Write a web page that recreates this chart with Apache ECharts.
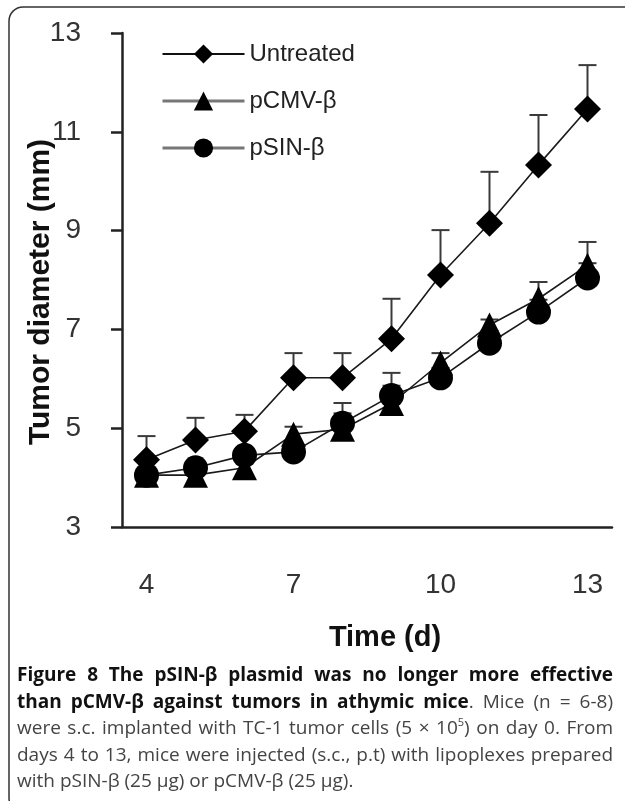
<!DOCTYPE html>
<html>
<head>
<meta charset="utf-8">
<script src="https://cdn.jsdelivr.net/npm/echarts@6/dist/echarts.min.js"></script>
<style>html,body{margin:0;padding:0;background:#fff;}#c{width:625px;height:801px;}</style>
</head>
<body>
<div id="c"></div>
<script>
// ---- data ----
const days = [4, 5, 6, 7, 8, 9, 10, 11, 12, 13];
const untreated = [4.36, 4.76, 4.94, 6.02, 6.02, 6.81, 8.10, 9.15, 10.33, 11.46];
const untreatedSD = [0.48, 0.45, 0.33, 0.50, 0.50, 0.81, 0.91, 1.04, 1.01, 0.89];
const pCMV = [4.05, 4.05, 4.20, 4.88, 4.98, 5.50, 6.32, 7.09, 7.62, 8.30];
const pCMVSD = [0.12, 0.12, 0.12, 0.15, 0.53, 0.62, 0.20, 0.11, 0.34, 0.47];
const pSIN = [4.05, 4.20, 4.45, 4.52, 5.10, 5.66, 6.02, 6.72, 7.35, 8.04];
const pSINSD = [0.10, 0.10, 0.15, 0.15, 0.20, 0.20, 0.20, 0.25, 0.25, 0.30];
const xTicks = [4, 7, 10, 13];
const seriesNames = ['Untreated', 'pCMV-\u03b2', 'pSIN-\u03b2'];

// caption lines: words made of segments (b = bold, r = regular, s = superscript)
const captionLines = [
  { justify: true, words: 'Figure 8 The pSIN-\u03b2 plasmid was no longer more effective'.split(' ').map(w => [['b', w]]) },
  { justify: true, words: [].concat(
      'than pCMV-\u03b2 against tumors in athymic'.split(' ').map(w => [['b', w]]),
      [[['b', 'mice'], ['r', '.']]],
      'Mice (n = 6-8)'.split(' ').map(w => [['r', w]])) },
  { justify: true, words: [].concat(
      'were s.c. implanted with TC-1 tumor cells (5 \u00d7'.split(' ').map(w => [['r', w]]),
      [[['r', '10'], ['s', '5'], ['r', ')']]],
      'on day 0. From'.split(' ').map(w => [['r', w]])) },
  { justify: true, words: 'days 4 to 13, mice were injected (s.c., p.t) with lipoplexes prepared'.split(' ').map(w => [['r', w]]) },
  { justify: false, words: 'with pSIN-\u03b2 (25 \u03bcg) or pCMV-\u03b2 (25 \u03bcg).'.split(' ').map(w => [['r', w]]) }
];

const pairs = (ys) => days.map((d, i) => [d, ys[i]]);
const errData = (ys, sd) => days.map((d, i) => [d, ys[i], ys[i] + sd[i]]);

function errRender(params, api) {
  const x = api.value(0), y = api.value(1), top = api.value(2);
  const p0 = api.coord([x, y]);
  const p1 = api.coord([x, top]);
  const half = 9;
  const st = { stroke: '#3a3a3a', lineWidth: 2 };
  return {
    type: 'group',
    children: [
      { type: 'line', shape: { x1: p0[0], y1: p0[1], x2: p1[0], y2: p1[1] }, style: st },
      { type: 'line', shape: { x1: p1[0] - half, y1: p1[1], x2: p1[0] + half, y2: p1[1] }, style: st }
    ]
  };
}

// ---- caption layout (justified text) ----
const capFonts = {
  b: 'bold 19px "Open Sans"',
  r: '19px "Open Sans"',
  s: '11px "Open Sans"'
};
const capFill = { b: '#111', r: '#444', s: '#444' };
const capLeft = 17, capRight = 613;
const capY = [676, 703, 729, 756, 782];
const mctx = document.createElement('canvas').getContext('2d');
function measure(kind, t) { mctx.font = capFonts[kind]; return mctx.measureText(t).width; }
const captionGraphics = [];
captionLines.forEach((line, li) => {
  const wordW = line.words.map(w => w.reduce((s, seg) => s + measure(seg[0], seg[1]), 0));
  const total = wordW.reduce((a, b) => a + b, 0);
  const gap = line.justify ? (capRight - capLeft - total) / (line.words.length - 1) : measure('r', ' ');
  let x = capLeft;
  line.words.forEach((w, wi) => {
    let sx = x;
    w.forEach(seg => {
      captionGraphics.push({
        type: 'text', x: sx, y: capY[li] + (seg[0] === 's' ? -6 : 0), silent: true,
        style: { text: seg[1], font: capFonts[seg[0]], fill: capFill[seg[0]], verticalAlign: 'middle', align: 'left' }
      });
      sx += measure(seg[0], seg[1]);
    });
    x += wordW[wi] + gap;
  });
});

const chart = echarts.init(document.getElementById('c'), null, { renderer: 'canvas' });
const axisFont = 'Liberation Sans';

chart.setOption({
  animation: false,
  backgroundColor: '#fff',
  grid: { left: 122, top: 33, right: 13, bottom: 274, containLabel: false },
  xAxis: {
    type: 'value', min: 3.5, max: 13.5,
    splitLine: { show: false },
    axisLine: { show: true, onZero: false, lineStyle: { color: '#222', width: 2.5 } },
    axisTick: { show: false },
    axisLabel: { customValues: xTicks, margin: 44, fontFamily: axisFont, fontSize: 28, color: '#333' },
    name: 'Time (d)', nameLocation: 'middle', nameGap: 96, nameMoveOverlap: false,
    nameTextStyle: { fontFamily: axisFont, fontWeight: 'bold', fontSize: 29, color: '#111', padding: [0, 0, 0, 36] }
  },
  yAxis: {
    type: 'value', min: 3, max: 13, interval: 2,
    splitLine: { show: false },
    axisLine: { show: true, onZero: false, lineStyle: { color: '#222', width: 2.5 } },
    axisTick: { show: true, inside: false, length: 11, lineStyle: { color: '#222', width: 2.5 } },
    axisLabel: { margin: 41, fontFamily: axisFont, fontSize: 28, color: '#333' },
    name: 'Tumor diameter (mm)', nameLocation: 'middle', nameGap: 66, nameRotate: 90, nameMoveOverlap: false,
    nameTextStyle: { fontFamily: axisFont, fontWeight: 'bold', fontSize: 30, color: '#111', padding: [0, 24, 0, 0] }
  },
  legend: {
    orient: 'vertical', left: 156, top: 37, itemWidth: 82, itemHeight: 24, itemGap: 23,
    textStyle: { fontFamily: axisFont, fontSize: 24, color: '#222' },
    data: [
      { name: seriesNames[0], lineStyle: { color: '#111', width: 2 } },
      { name: seriesNames[1], lineStyle: { color: '#777', width: 3 } },
      { name: seriesNames[2], lineStyle: { color: '#777', width: 3 } }
    ]
  },
  series: [
    { type: 'custom', renderItem: errRender, data: errData(untreated, untreatedSD), z: 1, silent: true },
    { type: 'custom', renderItem: errRender, data: errData(pCMV, pCMVSD), z: 1, silent: true },
    { type: 'custom', renderItem: errRender, data: errData(pSIN, pSINSD), z: 1, silent: true },
    {
      name: seriesNames[0], type: 'line', data: pairs(untreated), z: 3,
      symbol: 'diamond', symbolSize: 27, showAllSymbol: true,
      lineStyle: { color: '#1a1a1a', width: 1.6 }, itemStyle: { color: '#000' }
    },
    {
      name: seriesNames[1], type: 'line', data: pairs(pCMV), z: 3,
      symbol: 'triangle', symbolSize: 25, showAllSymbol: true,
      lineStyle: { color: '#1a1a1a', width: 1.6 }, itemStyle: { color: '#000' }
    },
    {
      name: seriesNames[2], type: 'line', data: pairs(pSIN), z: 3,
      symbol: 'circle', symbolSize: 25, showAllSymbol: true,
      lineStyle: { color: '#1a1a1a', width: 1.6 }, itemStyle: { color: '#000' }
    }
  ],
  graphic: [
    { type: 'rect', silent: true, z: -1,
      shape: { x: 9, y: 7, width: 640, height: 805, r: 14 },
      style: { fill: 'none', stroke: '#333', lineWidth: 1.5 } }
  ].concat(captionGraphics)
});
</script>
</body>
</html>
